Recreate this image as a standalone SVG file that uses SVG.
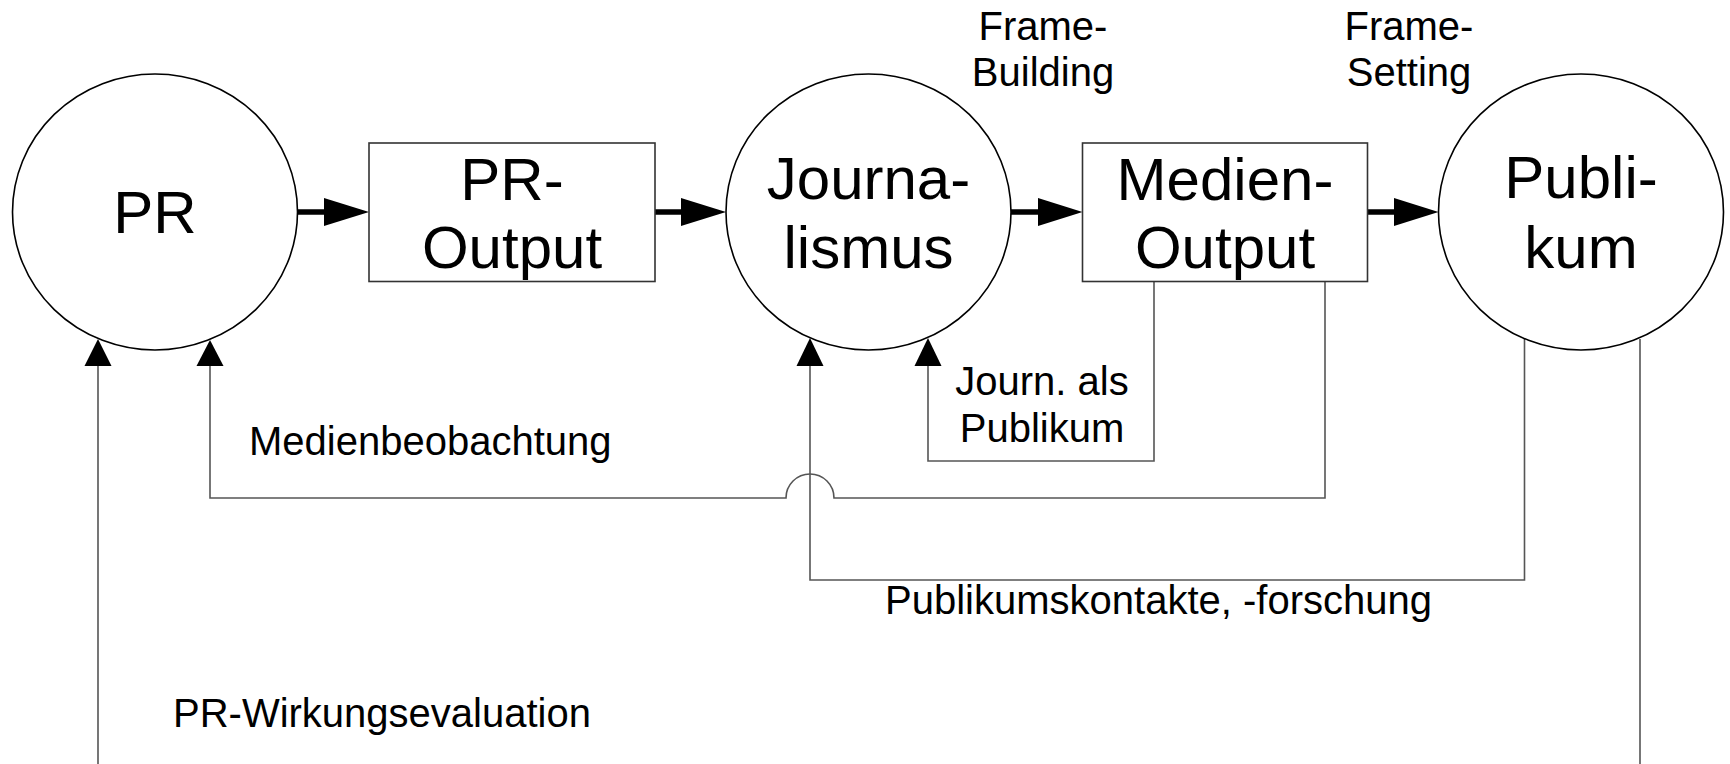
<svg xmlns="http://www.w3.org/2000/svg" width="1730" height="764" viewBox="0 0 1730 764">
<defs>
<marker id="up" markerWidth="28" markerHeight="27" refX="14" refY="0" orient="0" markerUnits="userSpaceOnUse">
<polygon points="0,27 14,0 28,27" fill="#000"/>
</marker>
</defs>
<style>
.node{fill:#fff;stroke:#000;stroke-width:1.6}
.box{fill:#fff;stroke:#333;stroke-width:1.6}
.big{font-family:"Liberation Sans",Arial,sans-serif;font-size:60px;text-anchor:middle;fill:#000}
.lbl{font-family:"Liberation Sans",Arial,sans-serif;font-size:40px;fill:#000}
.mid{text-anchor:middle}
.conn{fill:none;stroke:#555;stroke-width:1.6}
.thick{stroke:#000;stroke-width:5.5;stroke-linecap:round}
.head{fill:#000}
</style>
<rect width="1730" height="764" fill="#fff"/>
<g id="connectors">
<path class="conn" d="M1325,282 V498 H834 A24,24 0 0 0 786,498 H210 V366"/>
<path class="conn" d="M1524.5,339 V580 H810 V366"/>
<path class="conn" d="M1154,282 V461 H928 V366"/>
<path class="conn" d="M1640,339 V790 H98 V366"/>
<polygon class="head" points="84.5,366 98,339 111.5,366"/>
<polygon class="head" points="196.5,366 210,340 223.5,366"/>
<polygon class="head" points="796.5,366 810,338 823.5,366"/>
<polygon class="head" points="914.5,366 928,338 941.5,366"/>
<line class="thick" x1="298" y1="212" x2="326" y2="212"/>
<polygon class="head" points="324,198 369,212 324,226"/>
<line class="thick" x1="654" y1="212" x2="683" y2="212"/>
<polygon class="head" points="681,198 726,212 681,226"/>
<line class="thick" x1="1011" y1="212" x2="1040" y2="212"/>
<polygon class="head" points="1038,198 1082.5,212 1038,226"/>
<line class="thick" x1="1367" y1="212" x2="1396" y2="212"/>
<polygon class="head" points="1394,198 1438.5,212 1394,226"/>
</g>
<g id="pr">
<ellipse class="node" cx="155" cy="212" rx="142.5" ry="138"/>
<text class="big" x="155" y="233">PR</text>
</g>
<g id="pr-output">
<rect class="box" x="369" y="143" width="286" height="138.5"/>
<text class="big" x="512" y="200">PR-</text>
<text class="big" x="512" y="267.5">Output</text>
</g>
<g id="journalismus">
<ellipse class="node" cx="868.5" cy="212" rx="142.5" ry="138"/>
<text class="big" x="868.5" y="198.5">Journa-</text>
<text class="big" x="868.5" y="268">lismus</text>
</g>
<g id="medien-output">
<rect class="box" x="1082.5" y="143" width="285" height="138.5"/>
<text class="big" x="1225" y="200">Medien-</text>
<text class="big" x="1225" y="267.5">Output</text>
</g>
<g id="publikum">
<ellipse class="node" cx="1581" cy="212" rx="142.5" ry="138"/>
<text class="big" x="1581" y="197.5">Publi-</text>
<text class="big" x="1581" y="267.5">kum</text>
</g>
<g id="labels">
<text class="lbl mid" x="1043" y="40">Frame-</text>
<text class="lbl mid" x="1043" y="86">Building</text>
<text class="lbl mid" x="1409" y="40">Frame-</text>
<text class="lbl mid" x="1409" y="86">Setting</text>
<text class="lbl mid" x="1042" y="395">Journ. als</text>
<text class="lbl mid" x="1042" y="441.5">Publikum</text>
<text class="lbl" x="249" y="455">Medienbeobachtung</text>
<text class="lbl mid" x="1158.5" y="614">Publikumskontakte, -forschung</text>
<text class="lbl" x="173" y="726.5">PR-Wirkungsevaluation</text>
</g>
</svg>
